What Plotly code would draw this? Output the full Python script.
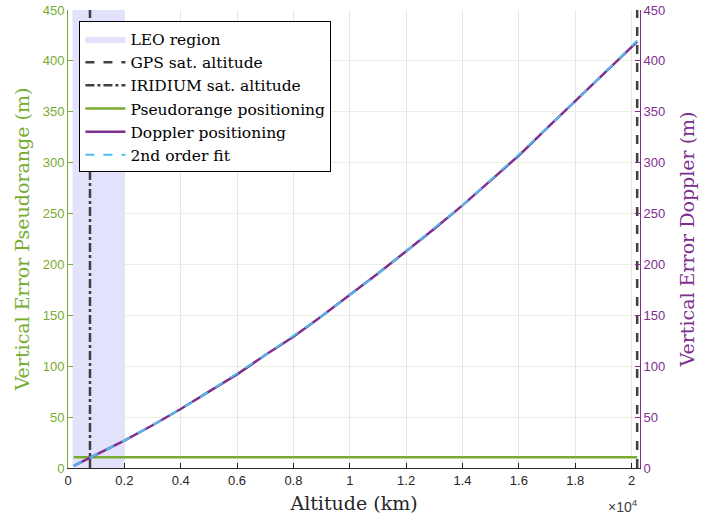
import plotly.graph_objects as go

# ---- data ----
altitude_km = [200, 1000, 2000, 3000, 4000, 5000, 6000, 7000, 8000, 9000, 10000,
               11000, 12000, 13000, 14000, 15000, 16000, 17000, 18000, 19000, 20200]
doppler_err = [2, 13, 27, 42, 58, 75, 92, 111, 129, 149, 170,
               191, 213, 235, 258, 283, 307, 334, 360, 387, 419]
fit_err = [2, 13, 27, 42, 58, 75, 93, 111, 130, 149, 170,
           191, 213, 236, 258, 283, 308, 334, 360, 387, 420]
pseudo_alt = [200, 20200]
pseudo_err = [10.5, 10.5]
leo_min, leo_max = 160, 2000
gps_alt = 20200
iridium_alt = 780
y_lim = [0, 450]
x_lim = [0, 20300]
x_tickvals = [0, 2000, 4000, 6000, 8000, 10000, 12000, 14000, 16000, 18000, 20000]
x_ticktext = ["0", "0.2", "0.4", "0.6", "0.8", "1", "1.2", "1.4", "1.6", "1.8", "2"]
y_tickvals = [0, 50, 100, 150, 200, 250, 300, 350, 400, 450]

GREEN = "#77AC30"
PURPLE = "#7E2F8E"
CYAN = "#4DBEEE"
DARK = "#404040"
SERIF = "DejaVu Serif, serif"
SANS = "Liberation Sans, Arial, sans-serif"

fig = go.Figure()

fig.add_trace(go.Scatter(
    x=[leo_min, leo_max, leo_max, leo_min, leo_min],
    y=[y_lim[0], y_lim[0], y_lim[1], y_lim[1], y_lim[0]],
    fill="toself", fillcolor="rgba(226,226,252,1)", mode="lines",
    line=dict(width=0, color="rgba(226,226,252,1)"),
    name="LEO region", yaxis="y"))

fig.add_trace(go.Scatter(
    x=[gps_alt, gps_alt], y=y_lim, mode="lines",
    line=dict(color=DARK, width=2.5, dash="dash"),
    name="GPS sat. altitude", yaxis="y"))

fig.add_trace(go.Scatter(
    x=[iridium_alt, iridium_alt], y=y_lim, mode="lines",
    line=dict(color=DARK, width=2.5, dash="dashdot"),
    name="IRIDIUM sat. altitude", yaxis="y"))

fig.add_trace(go.Scatter(
    x=pseudo_alt, y=pseudo_err, mode="lines",
    line=dict(color=GREEN, width=2.5),
    name="Pseudorange positioning", yaxis="y"))

fig.add_trace(go.Scatter(
    x=altitude_km, y=doppler_err, mode="lines",
    line=dict(color=PURPLE, width=2.5),
    name="Doppler positioning", yaxis="y2"))

fig.add_trace(go.Scatter(
    x=altitude_km, y=fit_err, mode="lines",
    line=dict(color=CYAN, width=2, dash="dash"),
    name="2nd order fit", yaxis="y2"))

fig.update_layout(
    width=701, height=518,
    margin=dict(l=68, r=61, t=10, b=50, autoexpand=False),
    paper_bgcolor="white", plot_bgcolor="white",
    showlegend=True,
    legend=dict(
        x=0.02, y=0.975, xanchor="left", yanchor="top",
        bgcolor="white", bordercolor="black", borderwidth=1,
        font=dict(family=SERIF, size=15.5, color="black"),
        itemwidth=40, tracegroupgap=0),
    xaxis=dict(
        range=x_lim, tickvals=x_tickvals, ticktext=x_ticktext, automargin=False,
        ticks="inside", ticklen=5, tickcolor="#262626",
        showline=True, linecolor="#262626", linewidth=1,
        showgrid=True, gridcolor="#E6E6E6", zeroline=False,
        tickfont=dict(family=SANS, size=13, color="#262626"),
        title=dict(text="Altitude (km)", font=dict(family=SERIF, size=19, color="#262626"),
                   standoff=10)),
    yaxis=dict(
        range=y_lim, tickvals=y_tickvals, automargin=False,
        ticks="inside", ticklen=5, tickcolor=GREEN,
        showline=True, linecolor=GREEN, linewidth=1,
        showgrid=True, gridcolor="#EBEEE2", zeroline=False,
        tickfont=dict(family=SANS, size=13, color=GREEN),
        title=dict(text="Vertical Error Pseudorange (m)",
                   font=dict(family=SERIF, size=19, color=GREEN), standoff=8)),
    yaxis2=dict(
        range=y_lim, tickvals=y_tickvals, overlaying="y", side="right", automargin=False,
        ticks="inside", ticklen=5, tickcolor=PURPLE,
        showline=True, linecolor=PURPLE, linewidth=1,
        showgrid=False, zeroline=False,
        tickfont=dict(family=SANS, size=13, color=PURPLE),
        title=dict(text="Vertical Error Doppler (m)",
                   font=dict(family=SERIF, size=19, color=PURPLE), standoff=16)),
    annotations=[dict(
        text="×10<sup>4</sup>", x=1.0, y=-0.06, xref="paper", yref="paper",
        xanchor="right", yanchor="top", showarrow=False,
        font=dict(family=SANS, size=14, color="#404040"))],
)

fig.write_html("out.html")
